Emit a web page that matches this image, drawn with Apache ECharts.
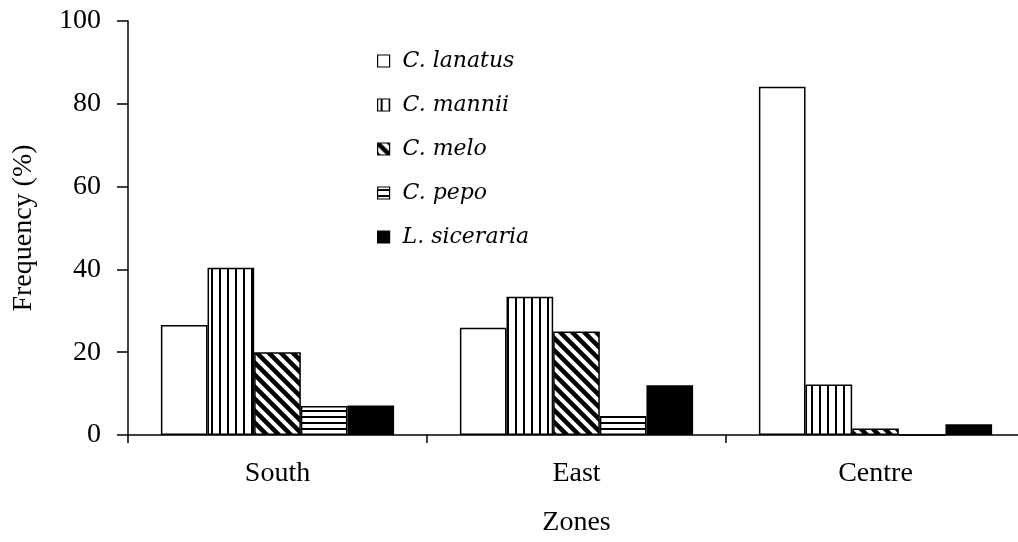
<!DOCTYPE html>
<html>
<head>
<meta charset="utf-8">
<script src="https://cdn.jsdelivr.net/npm/echarts@6/dist/echarts.min.js"></script>
<style>
  html, body { margin: 0; padding: 0; background: #fff; }
  #chart { width: 1018px; height: 542px; }
</style>
</head>
<body>
<div id="chart"></div>
<script>
// data
var zones = ['South', 'East', 'Centre'];
var speciesNames = ['C. lanatus', 'C. mannii', 'C. melo', 'C. pepo', 'L. siceraria'];
var lanatus = [26.6, 25.9, 84.1];
var mannii = [40.4, 33.4, 12.2];
var melo = [20.0, 25.0, 1.6];
var pepo = [7.0, 4.6, 0];
var siceraria = [7.1, 12.0, 2.6];
var yTicks = [0, 20, 40, 60, 80, 100];

// hatch fills drawn on small canvases
function tile(w, h, draw) {
    var c = document.createElement('canvas');
    c.width = w;
    c.height = h;
    var ctx = c.getContext('2d');
    ctx.fillStyle = '#fff';
    ctx.fillRect(0, 0, w, h);
    ctx.fillStyle = '#000';
    ctx.strokeStyle = '#000';
    draw(ctx);
    return {image: c, repeat: 'repeat'};
}

var vertical = tile(8, 8, function (ctx) {
    ctx.fillRect(3, 0, 2, 8);
});
var horizontal = tile(6, 6, function (ctx) {
    ctx.fillRect(0, 2, 6, 2);
});
var diagonal = tile(12, 12, function (ctx) {
    ctx.lineWidth = 4.5;
    [-12, 0, 12].forEach(function (k) {
        ctx.beginPath();
        ctx.moveTo(k - 2, -2);
        ctx.lineTo(k + 14, 14);
        ctx.stroke();
    });
});

var fills = ['#fff', vertical, diagonal, horizontal, '#000'];
var values = [lanatus, mannii, melo, pepo, siceraria];

var serif = '"Liberation Serif", "Times New Roman", serif';

var chart = echarts.init(document.getElementById('chart'), null, {renderer: 'canvas'});

var series = speciesNames.map(function (name, i) {
    return {
        name: name,
        type: 'bar',
        data: values[i],
        barGap: '0%',
        barCategoryGap: '22%',
        itemStyle: {
            color: fills[i],
            borderColor: '#000',
            borderWidth: 1.5
        },
        emphasis: {disabled: true}
    };
});

chart.setOption({
    animation: false,
    backgroundColor: '#fff',
    grid: {left: 128, width: 897, top: 21, bottom: 107, outerBoundsMode: 'none', containLabel: false},
    legend: {
        orient: 'vertical',
        left: 372,
        top: 45,
        itemWidth: 12,
        itemHeight: 12,
        itemGap: 22,
        icon: 'rect',
        selectedMode: false,
        itemStyle: {borderColor: '#000', borderWidth: 1.2},
        textStyle: {
            fontFamily: '"DejaVu Serif", serif',
            fontStyle: 'italic',
            fontSize: 22,
            color: '#000',
            padding: [0, 0, 0, 8]
        },
        data: speciesNames
    },
    xAxis: {
        type: 'category',
        data: zones,
        name: 'Zones',
        nameLocation: 'middle',
        nameGap: 74,
        nameTextStyle: {fontFamily: serif, fontSize: 28, color: '#000'},
        axisLine: {lineStyle: {color: '#000', width: 1.5}},
        axisTick: {show: true, length: 8, lineStyle: {color: '#000', width: 1.5}},
        axisLabel: {fontFamily: serif, fontSize: 28, color: '#000', margin: 25}
    },
    yAxis: {
        type: 'value',
        min: yTicks[0],
        max: yTicks[yTicks.length - 1],
        interval: 20,
        name: 'Frequency (%)',
        nameLocation: 'middle',
        nameGap: 90,
        nameTextStyle: {fontFamily: serif, fontSize: 28, color: '#000'},
        axisLine: {show: true, lineStyle: {color: '#000', width: 1.5}},
        axisTick: {show: true, length: 11, lineStyle: {color: '#000', width: 1.5}},
        axisLabel: {fontFamily: serif, fontSize: 28, color: '#000', margin: 27},
        splitLine: {show: false}
    },
    series: series
});
</script>
</body>
</html>
